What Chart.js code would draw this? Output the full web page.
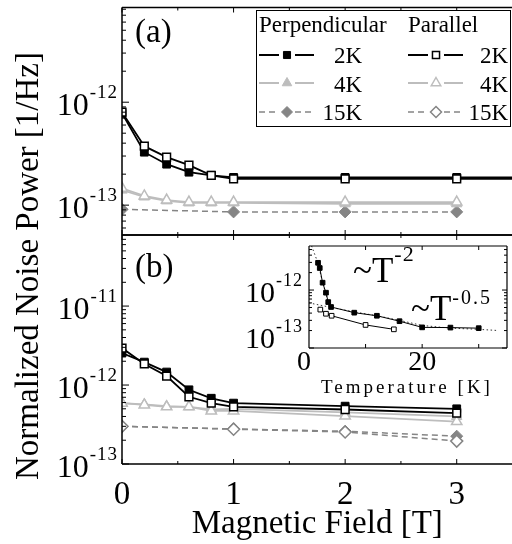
<!DOCTYPE html>
<html>
<head>
<meta charset="utf-8">
<script src="https://cdn.jsdelivr.net/npm/chart.js@4.4.1/dist/chart.umd.min.js"></script>
<style>
html, body { margin: 0; padding: 0; background: #fff; overflow: hidden; }
#wrap { position: relative; width: 512px; height: 544px; overflow: hidden; background: #fff; }
#wrap canvas { position: absolute; left: 0; top: 0; }
</style>
</head>
<body>
<div id="wrap">
  <canvas id="panelA" width="520" height="544"></canvas>
  <canvas id="panelB" width="520" height="544"></canvas>
  <canvas id="inset" width="520" height="544"></canvas>
</div>
<script>
// ---- data ----
const fieldFine = [0, 0.2, 0.4, 0.6, 0.8, 1, 2, 3];
const fieldWide = [0, 0.2, 0.4, 0.6, 0.8, 1, 2, 3, 4]; // (a) 2K lines run on past the frame
const fieldCoarse = [0, 1, 2, 3];

// panel (a)
const perp2K_a = [7.8e-13, 3.27e-13, 2.5e-13, 2.09e-13, 1.95e-13, 1.86e-13, 1.86e-13, 1.86e-13, 1.86e-13];
const par2K_a = [8.0e-13, 3.74e-13, 2.93e-13, 2.45e-13, 1.95e-13, 1.80e-13, 1.80e-13, 1.80e-13, 1.80e-13];
const perp4K_a = [1.40e-13, 1.20e-13, 1.10e-13, 1.05e-13, 1.05e-13, 1.05e-13, 1.03e-13, 1.03e-13];
const par4K_a = [1.46e-13, 1.23e-13, 1.12e-13, 1.07e-13, 1.07e-13, 1.07e-13, 1.07e-13, 1.07e-13];
const perp15K_a = [9.1e-14, 8.6e-14, 8.6e-14, 8.6e-14];

// panel (b)
const perp2K_b = [2.54e-12, 1.95e-12, 1.46e-12, 8.7e-13, 6.8e-13, 5.9e-13, 5.4e-13, 5.0e-13];
const par2K_b = [2.94e-12, 1.85e-12, 1.30e-12, 7.1e-13, 5.9e-13, 5.3e-13, 4.9e-13, 4.4e-13];
const perp4K_b = [5.9e-13, 5.7e-13, 5.4e-13, 5.3e-13, 4.9e-13, 5.0e-13, 4.5e-13, 4.0e-13];
const par4K_b = [5.9e-13, 5.6e-13, 5.3e-13, 5.3e-13, 4.7e-13, 4.7e-13, 4.05e-13, 3.45e-13];
const perp15K_b = [3.0e-13, 2.78e-13, 2.6e-13, 2.25e-13];
const par15K_b = [3.0e-13, 2.76e-13, 2.54e-13, 1.95e-13];

// inset: noise vs temperature
const tempFilled = [1.6, 1.9, 2.4, 3, 3.4, 3.9, 8, 12, 16, 20, 25, 30];
const noiseFilled = [2.95e-12, 2.4e-12, 1.34e-12, 9.0e-13, 6.2e-13, 5.1e-13, 4.07e-13, 3.6e-13, 2.9e-13, 2.27e-13, 2.25e-13, 2.2e-13];
const tempOpen = [2, 3, 4, 10, 15];
const noiseOpen = [4.6e-13, 3.9e-13, 3.6e-13, 2.5e-13, 2.1e-13];
const tempSteep = [0.45, 1.6, 2.4, 3.4, 4.2];
const noiseSteep = [5.8e-12, 2.9e-12, 1.35e-12, 6.3e-13, 4.6e-13];
const tempFlat = [0, 4, 8, 12, 16, 20, 25, 30, 33.5];
const noiseFlat = [6.0e-13, 5.0e-13, 4.2e-13, 3.6e-13, 3.0e-13, 2.45e-13, 2.2e-13, 2.1e-13, 2.0e-13];

const legendRows = ['2K', '4K', '15K'];
const legendHeads = ['Perpendicular', 'Parallel'];

// ---- styles ----
const SERIF = '"Liberation Serif", "Times New Roman", Times, serif';
const LIGHT = '#bdbdbd';
const MID = '#858585';

const style = {
  perp2K: { borderColor: '#000', borderWidth: 1.8, pointStyle: 'rect', pointRadius: 5.5, pointBackgroundColor: '#000', pointBorderColor: '#000', pointBorderWidth: 1 },
  par2K: { borderColor: '#000', borderWidth: 1.8, pointStyle: 'rect', pointRadius: 5.5, pointBackgroundColor: '#fff', pointBorderColor: '#000', pointBorderWidth: 1.5 },
  perp4K: { borderColor: LIGHT, borderWidth: 1.8, pointStyle: 'triangle', pointRadius: 6, pointBackgroundColor: LIGHT, pointBorderColor: LIGHT, pointBorderWidth: 1 },
  par4K: { borderColor: LIGHT, borderWidth: 1.8, pointStyle: 'triangle', pointRadius: 6, pointBackgroundColor: '#fff', pointBorderColor: LIGHT, pointBorderWidth: 1.5 },
  perp15K: { borderColor: MID, borderWidth: 1.5, borderDash: [6, 4], pointStyle: 'rectRot', pointRadius: 6, pointBackgroundColor: MID, pointBorderColor: MID, pointBorderWidth: 1 },
  par15K: { borderColor: MID, borderWidth: 1.5, borderDash: [6, 4], pointStyle: 'rectRot', pointRadius: 6, pointBackgroundColor: '#fff', pointBorderColor: MID, pointBorderWidth: 1.5 }
};

const pts = (xs, ys) => ys.map((y, i) => ({ x: xs[i], y: y }));
function series(label, xs, ys, st, order) {
  return Object.assign({ label: label, data: pts(xs, ys), tension: 0, fill: false, order: order }, st);
}

// ---- drawing helpers ----
function logTicks(min, max) {
  const out = [];
  for (let e = Math.floor(Math.log10(min)); e <= Math.ceil(Math.log10(max)); e++) {
    for (let m = 1; m <= 9; m++) {
      const v = m * Math.pow(10, e);
      if (v >= min * 0.999 && v <= max * 1.001) out.push({ v: v, major: m === 1 });
    }
  }
  return out;
}

function supText(ctx, x, y, base, sup, bigPx, smallPx, supRise, align, spacing) {
  ctx.save();
  ctx.fillStyle = '#000';
  ctx.textBaseline = 'alphabetic';
  ctx.font = smallPx + 'px ' + SERIF;
  ctx.letterSpacing = (spacing || 0) + 'px';
  const supW = ctx.measureText(sup).width;
  ctx.letterSpacing = '0px';
  ctx.font = bigPx + 'px ' + SERIF;
  const baseW = ctx.measureText(base).width;
  let x0 = align === 'right' ? x - supW - baseW : x;
  ctx.textAlign = 'left';
  ctx.fillText(base, x0, y);
  ctx.font = smallPx + 'px ' + SERIF;
  ctx.letterSpacing = (spacing || 0) + 'px';
  ctx.fillText(sup, x0 + baseW + 1, y - supRise);
  ctx.restore();
}

function frame(chart, cfg) {
  const ctx = chart.ctx;
  const a = chart.chartArea;
  const xs = chart.scales.x, ys = chart.scales.y;
  ctx.save();
  ctx.strokeStyle = '#000';
  ctx.lineWidth = cfg.lineWidth;
  ctx.beginPath();
  if (cfg.left) { ctx.moveTo(a.left, a.top); ctx.lineTo(a.left, a.bottom); }
  if (cfg.right) { ctx.moveTo(a.right, a.top); ctx.lineTo(a.right, a.bottom); }
  if (cfg.top) { ctx.moveTo(a.left, a.top); ctx.lineTo(a.right, a.top); }
  if (cfg.bottom) { ctx.moveTo(a.left, a.bottom); ctx.lineTo(a.right, a.bottom); }
  ctx.stroke();

  ctx.lineWidth = 1;
  ctx.beginPath();
  cfg.xTicks.forEach(t => {
    const px = xs.getPixelForValue(t.v);
    const len = t.major ? cfg.xMaj : cfg.xMin;
    if (cfg.top) { ctx.moveTo(px, a.top); ctx.lineTo(px, a.top + len); }
    if (cfg.bottom) { ctx.moveTo(px, a.bottom); ctx.lineTo(px, a.bottom - len); }
  });
  logTicks(ys.min, ys.max).forEach(t => {
    const py = ys.getPixelForValue(t.v);
    const len = t.major ? cfg.yMaj : cfg.yMin;
    if (cfg.left) { ctx.moveTo(a.left, py); ctx.lineTo(a.left + len, py); }
    if (cfg.right) { ctx.moveTo(a.right, py); ctx.lineTo(a.right - len, py); }
  });
  ctx.stroke();
  ctx.restore();
}

function fieldTicks() {
  const out = [];
  for (let i = 0; i <= 7; i++) out.push({ v: i * 0.5, major: i % 2 === 0 });
  return out;
}

function drawMarker(ctx, kind, x, y, r, fill, stroke, lw) {
  ctx.save();
  ctx.fillStyle = fill; ctx.strokeStyle = stroke; ctx.lineWidth = lw; ctx.setLineDash([]);
  ctx.beginPath();
  if (kind === 'rect') {
    const s = r * Math.SQRT1_2;
    ctx.rect(x - s, y - s, 2 * s, 2 * s);
  } else if (kind === 'triangle') {
    ctx.moveTo(x, y - r);
    ctx.lineTo(x + r * 0.866, y + r * 0.5);
    ctx.lineTo(x - r * 0.866, y + r * 0.5);
    ctx.closePath();
  } else {
    ctx.moveTo(x, y - r); ctx.lineTo(x + r, y); ctx.lineTo(x, y + r); ctx.lineTo(x - r, y); ctx.closePath();
  }
  ctx.fill(); ctx.stroke();
  ctx.restore();
}

const legendPlugin = {
  id: 'splitLegend',
  afterDraw(chart) {
    const ctx = chart.ctx;
    ctx.save();
    ctx.fillStyle = '#fff';
    ctx.fillRect(256.5, 10.5, 254, 116);
    ctx.strokeStyle = '#000';
    ctx.lineWidth = 1;
    ctx.strokeRect(256.5, 10.5, 254, 116);
    ctx.fillStyle = '#000';
    ctx.font = '23px ' + SERIF;
    ctx.textBaseline = 'alphabetic';
    ctx.textAlign = 'left';
    ctx.fillText(legendHeads[0], 259, 32);
    ctx.fillText(legendHeads[1], 408, 32);
    const cols = [
      { x0: 259, labelX: 362, keys: ['perp2K', 'perp4K', 'perp15K'] },
      { x0: 408, labelX: 508, keys: ['par2K', 'par4K', 'par15K'] }
    ];
    const rowY = [55, 83, 112];
    const baseY = [63, 92, 120];
    cols.forEach(c => {
      c.keys.forEach((k, i) => {
        const st = style[k];
        const y = rowY[i];
        ctx.save();
        ctx.strokeStyle = st.borderColor;
        ctx.lineWidth = st.borderWidth;
        ctx.setLineDash(st.borderDash || []);
        ctx.beginPath();
        ctx.moveTo(c.x0, y); ctx.lineTo(c.x0 + 20, y);
        ctx.moveTo(c.x0 + 36, y); ctx.lineTo(c.x0 + 55, y);
        ctx.stroke();
        ctx.restore();
        const r = st.pointStyle === 'rect' ? 5 : 5.5;
        drawMarker(ctx, st.pointStyle, c.x0 + 28, y, r, st.pointBackgroundColor, st.pointBorderColor, st.pointBorderWidth);
        ctx.fillStyle = '#000';
        ctx.font = '23px ' + SERIF;
        ctx.textAlign = 'right';
        ctx.fillText(legendRows[i], c.labelX, baseY[i]);
      });
    });
    ctx.restore();
  }
};

function panelLabels(chart, exps, tag, tagY) {
  const ctx = chart.ctx;
  const ys = chart.scales.y;
  exps.forEach(e => {
    const py = ys.getPixelForValue(Math.pow(10, e));
    supText(ctx, 117, py + 13, '10', String(e), 32, 19, 17, 'right', 1);
  });
  ctx.save();
  ctx.fillStyle = '#000';
  ctx.font = '33px ' + SERIF;
  ctx.textAlign = 'left';
  ctx.textBaseline = 'alphabetic';
  ctx.fillText(tag, 135, tagY);
  ctx.restore();
}

const hiddenAxis = { display: false };

// ---- panel (a) ----
new Chart(document.getElementById('panelA'), {
  type: 'line',
  data: {
    datasets: [
      series('Parallel 2K', fieldWide, par2K_a, style.par2K, 0),
      series('Perpendicular 2K', fieldWide, perp2K_a, style.perp2K, 1),
      series('Parallel 4K', fieldFine, par4K_a, style.par4K, 2),
      series('Perpendicular 4K', fieldFine, perp4K_a, style.perp4K, 3),
      series('Perpendicular 15K', fieldCoarse, perp15K_a, style.perp15K, 4)
    ]
  },
  options: {
    responsive: false,
    animation: false,
    events: [],
    layout: { padding: { left: 122, top: 7, right: 4.25, bottom: 309 } },
    scales: {
      x: Object.assign({ type: 'linear', min: 0, max: 3.5 }, hiddenAxis),
      y: Object.assign({ type: 'logarithmic', min: Math.pow(10, -13.29), max: Math.pow(10, -11.08) }, hiddenAxis)
    },
    plugins: { legend: { display: false }, tooltip: { enabled: false } }
  },
  plugins: [{
    id: 'frameA',
    afterDatasetsDraw(chart) {
      frame(chart, { left: true, top: true, bottom: true, right: false, lineWidth: 1.5, xTicks: fieldTicks(), xMaj: 5, xMin: 3, yMaj: 7, yMin: 4 });
      panelLabels(chart, [-12, -13], '(a)', 42);
    }
  }, legendPlugin]
});

// ---- panel (b) ----
new Chart(document.getElementById('panelB'), {
  type: 'line',
  data: {
    datasets: [
      series('Parallel 2K', fieldFine, par2K_b, style.par2K, 0),
      series('Perpendicular 2K', fieldFine, perp2K_b, style.perp2K, 1),
      series('Parallel 4K', fieldFine, par4K_b, style.par4K, 2),
      series('Perpendicular 4K', fieldFine, perp4K_b, style.perp4K, 3),
      series('Parallel 15K', fieldCoarse, par15K_b, style.par15K, 4),
      series('Perpendicular 15K', fieldCoarse, perp15K_b, style.perp15K, 5)
    ]
  },
  options: {
    responsive: false,
    animation: false,
    events: [],
    layout: { padding: { left: 122, top: 235, right: 4.25, bottom: 0 } },
    scales: {
      x: {
        type: 'linear', min: 0, max: 3.5,
        grid: { display: false }, border: { display: false },
        ticks: { stepSize: 1, includeBounds: false, maxRotation: 0, padding: 4, color: '#000', font: { family: SERIF, size: 33 } },
        title: { display: true, text: 'Magnetic Field [T]', color: '#000', font: { family: SERIF, size: 33 }, padding: { top: 0, bottom: 0 } },
        afterFit(scale) { scale.height = 80; }
      },
      y: Object.assign({ type: 'logarithmic', min: 1e-13, max: Math.pow(10, -10.1) }, hiddenAxis)
    },
    plugins: { legend: { display: false }, tooltip: { enabled: false } }
  },
  plugins: [{
    id: 'frameB',
    afterDatasetsDraw(chart) {
      frame(chart, { left: true, top: true, bottom: true, right: false, lineWidth: 1.5, xTicks: fieldTicks(), xMaj: 5, xMin: 3, yMaj: 7, yMin: 4 });
      panelLabels(chart, [-11, -12, -13], '(b)', 277);
      const ctx = chart.ctx;
      ctx.save();
      ctx.fillStyle = '#000';
      ctx.font = '33px ' + SERIF;
      ctx.textAlign = 'center';
      ctx.textBaseline = 'middle';
      ctx.translate(29, 266);
      ctx.rotate(-Math.PI / 2);
      ctx.fillText('Normalized Noise Power [1/Hz]', 0, 0);
      ctx.restore();
    }
  }]
});

// ---- inset ----
new Chart(document.getElementById('inset'), {
  type: 'line',
  data: {
    datasets: [
      Object.assign({ label: 'filled', data: pts(tempFilled, noiseFilled), tension: 0, borderColor: '#000', borderWidth: 1, pointStyle: 'rect', pointRadius: 3.3, pointBackgroundColor: '#000', pointBorderColor: '#000', pointBorderWidth: 1, order: 0 }),
      Object.assign({ label: 'open', data: pts(tempOpen, noiseOpen), tension: 0, borderColor: '#000', borderWidth: 1, pointStyle: 'rect', pointRadius: 3.3, pointBackgroundColor: '#fff', pointBorderColor: '#000', pointBorderWidth: 1, order: 1 }),
      Object.assign({ label: '~T^-2', data: pts(tempSteep, noiseSteep), tension: 0, borderColor: '#333', borderWidth: 1, borderDash: [1.5, 2.5], pointRadius: 0, order: 2 }),
      Object.assign({ label: '~T^-0.5', data: pts(tempFlat, noiseFlat), tension: 0, borderColor: '#333', borderWidth: 1, borderDash: [1.5, 2.5], pointRadius: 0, order: 3 })
    ]
  },
  options: {
    responsive: false,
    animation: false,
    events: [],
    layout: { padding: { left: 309, top: 246, right: 13, bottom: 196 } },
    scales: {
      x: Object.assign({ type: 'linear', min: 0, max: 35 }, hiddenAxis),
      y: Object.assign({ type: 'logarithmic', min: 1e-13, max: Math.pow(10, -11.24) }, hiddenAxis)
    },
    plugins: { legend: { display: false }, tooltip: { enabled: false } }
  },
  plugins: [{
    id: 'insetFrame',
    beforeDatasetsDraw(chart) {
      const a = chart.chartArea;
      chart.ctx.save();
      chart.ctx.fillStyle = '#fff';
      chart.ctx.fillRect(a.left, a.top, a.right - a.left, a.bottom - a.top);
      chart.ctx.restore();
    },
    afterDatasetsDraw(chart) {
      const ctx = chart.ctx;
      const a = chart.chartArea;
      const xs = chart.scales.x, ys = chart.scales.y;
      const tTicks = [];
      for (let v = 5; v <= 35; v += 5) tTicks.push({ v: v, major: v % 10 === 0 });
      frame(chart, { left: true, top: true, bottom: true, right: true, lineWidth: 1.2, xTicks: tTicks, xMaj: 4, xMin: 0, yMaj: 5, yMin: 3 });
      [-12, -13].forEach(e => {
        const py = ys.getPixelForValue(Math.pow(10, e));
        supText(ctx, 302, Math.min(py + 12, a.bottom), '10', String(e), 30, 18, 16, 'right', 1);
      });
      ctx.save();
      ctx.fillStyle = '#000';
      ctx.font = '28px ' + SERIF;
      ctx.textAlign = 'center';
      ctx.textBaseline = 'alphabetic';
      [0, 20].forEach(v => ctx.fillText(String(v), xs.getPixelForValue(v) - (v === 0 ? 5 : 0), 370));
      ctx.font = '19px ' + SERIF;
      ctx.letterSpacing = '3px';
      ctx.fillText('Temperature [K]', 407, 393);
      ctx.restore();
      supText(ctx, 353, 282, '~T', '-2', 35, 22, 21, 'left', 1);
      supText(ctx, 411, 320, '~T', '-0.5', 35, 20, 16, 'left', 2);
    }
  }]
});
</script>
</body>
</html>
